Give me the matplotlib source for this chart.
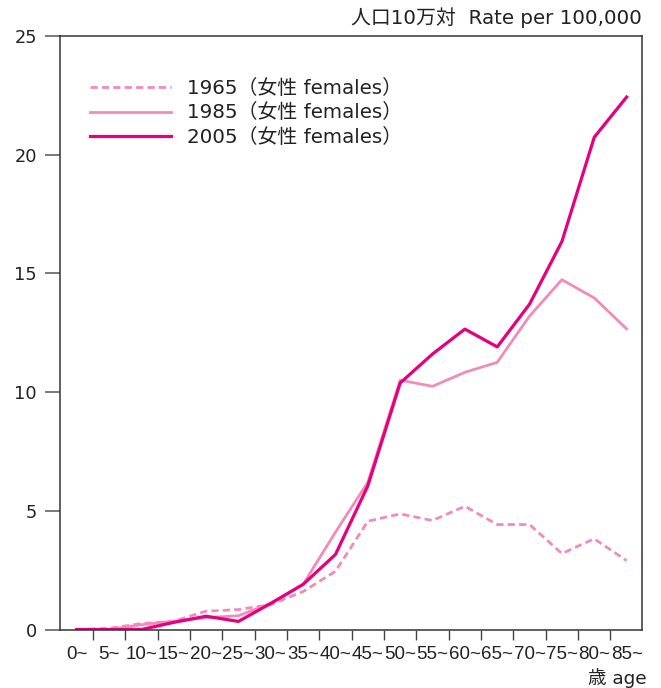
import numpy as np
import matplotlib.pyplot as plt

plt.rcParams['font.family'] = ['DejaVu Sans', 'Noto Sans CJK JP']

# 年齢階級
ages = ['0~', '5~', '10~', '15~', '20~', '25~', '30~', '35~', '40~',
        '45~', '50~', '55~', '60~', '65~', '70~', '75~', '80~', '85~']

# 女性 罹患率（人口10万対）
rate_1965 = [0.0, 0.05, 0.25, 0.35, 0.77, 0.84, 1.05, 1.6, 2.45,
             4.56, 4.87, 4.59, 5.19, 4.42, 4.42, 3.2, 3.82, 2.9]
rate_1985 = [0.0, 0.0, 0.2, 0.35, 0.5, 0.58, 1.1, 1.9, 4.1,
             6.2, 10.5, 10.24, 10.83, 11.25, 13.2, 14.73, 13.96, 12.66]
rate_2005 = [0.0, 0.0, 0.0, 0.3, 0.56, 0.34, 1.1, 1.9, 3.16,
             6.05, 10.38, 11.6, 12.65, 11.9, 13.7, 16.34, 20.73, 22.42]

series_labels = ['1965（女性 females）', '1985（女性 females）', '2005（女性 females）']

pink = '#f18cba'
magenta = '#e6007e'

fig = plt.figure(figsize=(6.61, 6.88), dpi=100)
ax = fig.add_axes([0.0915, 0.085, 0.8795, 0.863])

x = np.arange(len(ages))
ax.plot(x, rate_1965, color=pink, lw=2.0, ls=(0, (2.6, 1.5)), label=series_labels[0])
ax.plot(x, rate_1985, color=pink, lw=2.0, label=series_labels[1])
ax.plot(x, rate_2005, color=magenta, lw=2.3, label=series_labels[2])

ax.set_xlim(-0.5, 17.47)
ax.set_ylim(0, 25)

# x軸: 目盛は階級の境目、ラベルは中央
ax.set_xticks(x)
ax.set_xticklabels(ages, fontsize=13.5, color='#222222',
                   family=['Liberation Sans', 'DejaVu Sans'])
ax.set_xticks(x[:-1] + 0.5, minor=True)
ax.tick_params(axis='x', which='major', length=0, pad=12)
ax.tick_params(axis='x', which='minor', direction='out', length=7.5,
               width=1.0, color='#444444')

ax.set_yticks([0, 5, 10, 15, 20, 25])
ax.tick_params(axis='y', direction='out', length=11, width=1.1,
               color='#555555', labelsize=12.8, labelcolor='#222222', pad=6)

for s in ax.spines.values():
    s.set_linewidth(1.1)
    s.set_color('#333333')

leg = ax.legend(loc='upper left', bbox_to_anchor=(0.05, 0.928), frameon=False,
                fontsize=14.3, handlelength=4.1, handletextpad=0.8,
                labelspacing=0.3, borderpad=0, borderaxespad=0)
for t in leg.get_texts():
    t.set_color('#222222')

fig.text(0.971, 0.975, '人口10万対  Rate per 100,000', ha='right', va='center',
         fontsize=14.3, color='#222222')
fig.text(0.979, 0.014, '歳 age', ha='right', va='center',
         fontsize=13.3, color='#222222')

plt.savefig('out.png', dpi=100)
